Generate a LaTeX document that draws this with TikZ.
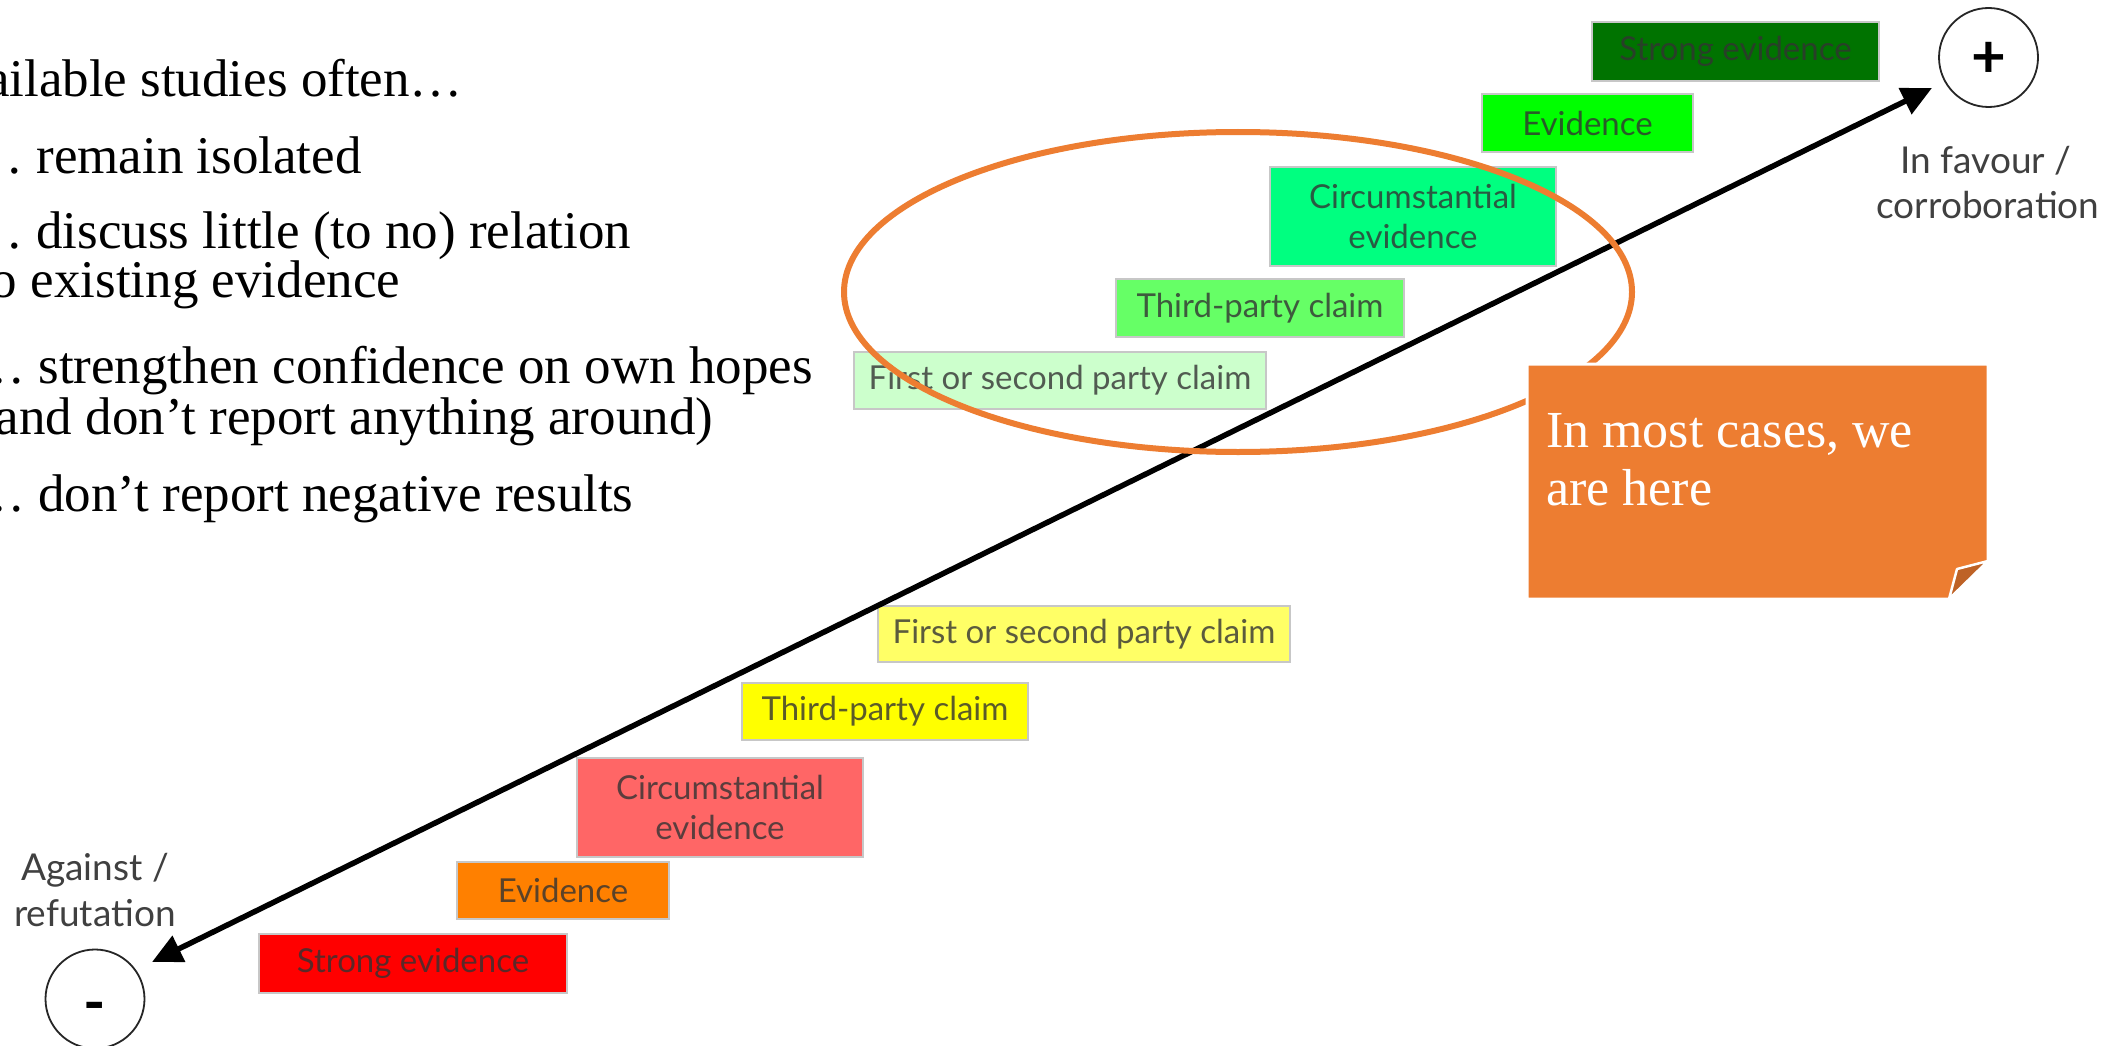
\documentclass[tikz,border=0pt]{standalone}
\usepackage{fontspec}
\setmainfont{Liberation Serif}
\newfontfamily\lato{Lato}
\usetikzlibrary{arrows.meta}
\definecolor{dgreen}{RGB}{0,115,0}
\definecolor{bgreen}{RGB}{0,255,0}
\definecolor{sgreen}{RGB}{0,255,128}
\definecolor{lgreen}{RGB}{102,255,102}
\definecolor{pgreen}{RGB}{204,255,204}
\definecolor{pyellow}{RGB}{255,255,102}
\definecolor{yellowA}{RGB}{255,255,0}
\definecolor{salmonA}{RGB}{255,102,102}
\definecolor{orangeA}{RGB}{255,128,0}
\definecolor{redA}{RGB}{255,0,0}
\definecolor{noteorange}{RGB}{237,125,49}
\definecolor{folddark}{RGB}{190,98,38}
\definecolor{txtgray}{RGB}{64,64,64}
\definecolor{boxtxt}{RGB}{51,51,51}
\tikzset{
  bul/.style={anchor=base west, inner sep=0pt, text=black, font=\fontsize{53}{60}\selectfont},
  ebox/.style={draw=black!22, line width=1.5pt, inner sep=0pt, align=center,
    text=boxtxt, text opacity=0.8, font=\lato\fontsize{33}{40}\selectfont},
  lab/.style={anchor=base, inner sep=0pt, text=txtgray, font=\lato\fontsize{37}{44}\selectfont},
  signcirc/.style={draw=black!85, circle, line width=1.8pt, minimum size=99pt, inner sep=0pt},
  arr/.style={{Triangle[length=30pt,width=28pt]}-{Triangle[length=30pt,width=28pt]}, line width=5.5pt, black},
  notetxt/.style={anchor=base west, inner sep=0pt, text=white, font=\fontsize{52}{58}\selectfont},
}
\begin{document}
\begin{tikzpicture}[x=1pt,y=-1pt]
\useasboundingbox (0,0) rectangle (2128,1046);
\clip (0,0) rectangle (2128,1046);
\fill[white] (0,0) rectangle (2128,1046);

% bullet text
\node[bul] (b1) at (-75,97) {Available studies often…};
\node[bul] (b2) at (-30,173) {… remain isolated};
\node[bul] (b3) at (-30,248) {… discuss little (to no) relation};
\node[bul] (b4) at (-24,297) {to existing evidence};
\node[bul] (b5) at (-28,383) {… strengthen confidence on own hopes};
\node[bul] (b6) at (-22,434) {(and don’t report anything around)};
\node[bul] (b7) at (-28,511) {… don’t report negative results};

% upper (in favour) boxes
\node[ebox, fill=dgreen, minimum width=287pt, minimum height=59pt] (sp) at (1735.5,51.5) {Strong evidence};
\node[ebox, fill=bgreen, minimum width=211pt, minimum height=58pt] (ep) at (1587.5,123) {Evidence};
\node[ebox, fill=sgreen, minimum width=286pt, minimum height=99pt] (cp) at (1413,216.5) {Circumstantial\\evidence};
\node[ebox, fill=lgreen, minimum width=288pt, minimum height=58pt] (tp) at (1260,308) {Third-party claim};
\node[ebox, fill=pgreen, minimum width=412pt, minimum height=57pt] (fp) at (1060,380.5) {First or second party claim};

% lower (against) boxes
\node[ebox, fill=pyellow, minimum width=412pt, minimum height=56pt] (fn) at (1084,634) {First or second party claim};
\node[ebox, fill=yellowA, minimum width=286pt, minimum height=57pt] (tn) at (885,711.5) {Third-party claim};
\node[ebox, fill=salmonA, minimum width=286pt, minimum height=99pt] (cn) at (720,807.5) {Circumstantial\\evidence};
\node[ebox, fill=orangeA, minimum width=212pt, minimum height=57pt] (en) at (563,890.5) {Evidence};
\node[ebox, fill=redA, minimum width=308pt, minimum height=59pt] (sn) at (413,963.5) {Strong evidence};

% circles and signs
\node[signcirc] (pc) at (1988.5,57.5) {};
\node[inner sep=0pt, font=\lato\bfseries\fontsize{60}{60}\selectfont] (ps) at (1988.5,60) {+};
\node[signcirc] (mc) at (95,999) {};
\node[inner sep=0pt, font=\lato\bfseries\fontsize{60}{60}\selectfont] (ms) at (95,1013) {-};

% side labels
\node[lab] (fav1) at (1986,173) {In favour /};
\node[lab] (fav2) at (1988,218) {corroboration};
\node[lab] (ag1) at (95,880) {Against /};
\node[lab] (ag2) at (95,926) {refutation};

% main double arrow
\coordinate (aL) at (152,962);
\coordinate (aR) at (1932,88);
\draw[arr] (aL) -- (aR);

% highlight ellipse
\draw[noteorange, line width=6pt] (1238,292) ellipse [x radius=394, y radius=160];

% sticky note
\path[fill=noteorange, draw=white, line width=3pt]
  (1527,364) -- (1988,364) -- (1988,561) -- (1949,599) -- (1527,599) -- cycle;
\path[fill=folddark, draw=white, line width=2.5pt, line join=round]
  (1988,561) -- (1957,569) -- (1949,599) -- cycle;
\node[notetxt] (n1) at (1546,447) {In most cases, we};
\node[notetxt] (n2) at (1546,505) {are here};
\end{tikzpicture}
\end{document}
